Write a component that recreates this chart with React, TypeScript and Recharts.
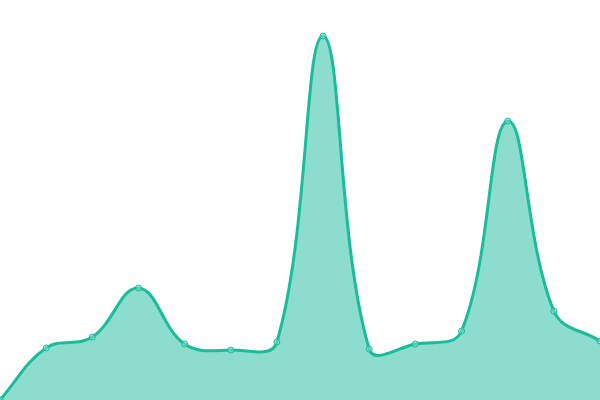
import React from 'react';
import { AreaChart, Area, XAxis, YAxis } from 'recharts';

const labels = ['1', '2', '3', '4', '5', '6', '7', '8', '9', '10', '11', '12', '13', '14'];
const values = [0, 52, 63, 112, 56, 50, 58, 364, 51, 56, 69, 279, 89, 59];

const chartData = labels.map((label, i) => ({ label, value: values[i] }));

// tension spline: control points from neighbours, weighted by distance
class TensionCurve {
  _context: any;
  _t: number;
  _line: number = NaN;
  _xs: number[] = [];
  _ys: number[] = [];
  constructor(context: any, t: number) {
    this._context = context;
    this._t = t;
  }
  areaStart() { this._line = 0; }
  areaEnd() { this._line = NaN; }
  lineStart() { this._xs = []; this._ys = []; }
  point(x: number, y: number) { this._xs.push(+x); this._ys.push(+y); }
  lineEnd() {
    const xs = this._xs;
    const ys = this._ys;
    const n = xs.length;
    const ctx = this._context;
    if (n) {
      const cps = xs.map((x, i) => {
        const px = xs[Math.max(0, i - 1)], py = ys[Math.max(0, i - 1)];
        const nx = xs[Math.min(n - 1, i + 1)], ny = ys[Math.min(n - 1, i + 1)];
        const d01 = Math.hypot(x - px, ys[i] - py);
        const d12 = Math.hypot(nx - x, ny - ys[i]);
        let s01 = d01 / (d01 + d12);
        let s12 = d12 / (d01 + d12);
        if (isNaN(s01)) s01 = 0;
        if (isNaN(s12)) s12 = 0;
        const fa = this._t * s01, fb = this._t * s12;
        const clampY = (v: number) => Math.max(0, Math.min(400, v));
        const clampX = (v: number) => Math.max(0, Math.min(600, v));
        return {
          px: clampX(x - fa * (nx - px)), py: clampY(ys[i] - fa * (ny - py)),
          nx: clampX(x + fb * (nx - px)), ny: clampY(ys[i] + fb * (ny - py)),
        };
      });
      if (this._line) ctx.lineTo(xs[0], ys[0]);
      else ctx.moveTo(xs[0], ys[0]);
      for (let i = 1; i < n; i++) {
        ctx.bezierCurveTo(cps[i - 1].nx, cps[i - 1].ny, cps[i].px, cps[i].py, xs[i], ys[i]);
      }
    }
    if (this._line || (this._line !== 0 && n === 1)) ctx.closePath();
    this._line = 1 - this._line;
  }
}

const tensionCurve = (context: any) => new TensionCurve(context, 0.4);

export default function App() {
  return (
    <div style={{ position: 'absolute', left: 0, top: 0, width: 600, height: 400 }}>
      <AreaChart width={600} height={400} data={chartData} margin={{ top: 0, right: 0, left: 0, bottom: 0 }}>
        <XAxis dataKey="label" hide />
        <YAxis domain={[0, 400]} hide />
        <Area
          type={tensionCurve as any}
          dataKey="value"
          stroke="#1abc9c"
          strokeWidth={3}
          fill="#1abc9c"
          fillOpacity={0.5}
          dot={{ r: 3, fill: '#8ce0cf', stroke: '#1abc9c', strokeWidth: 1 }}
          activeDot={false}
          isAnimationActive={false}
        />
      </AreaChart>
    </div>
  );
}
